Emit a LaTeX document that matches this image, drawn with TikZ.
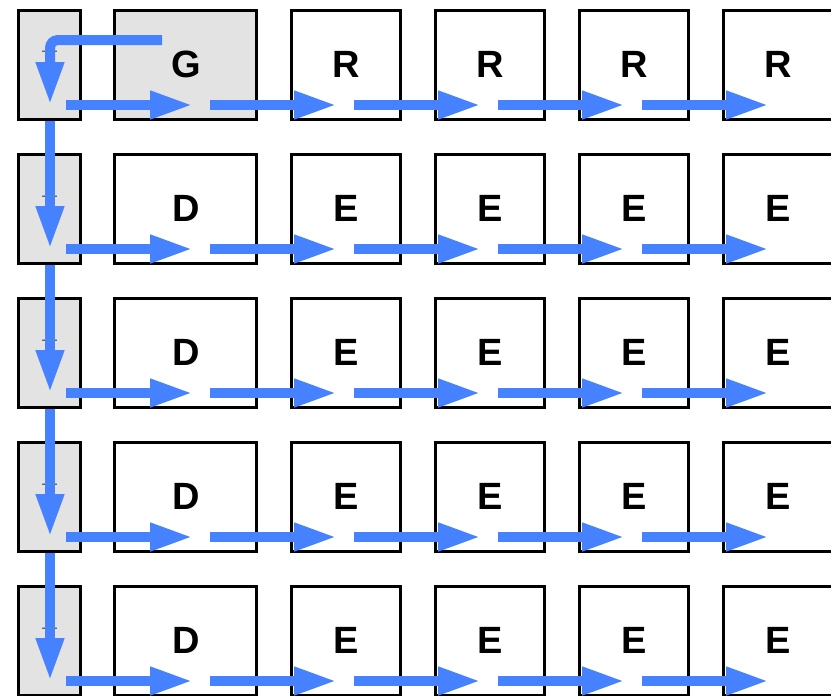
\documentclass[tikz,border=0pt]{standalone}
\usepackage{fontspec}
\setmainfont{Liberation Sans}
\usetikzlibrary{arrows.meta}
\definecolor{flowblue}{RGB}{70,130,255}
\definecolor{cellgray}{RGB}{227,227,227}

\begin{document}
\begin{tikzpicture}[x=1pt,y=-1pt,
    cell/.style={draw,line width=3pt,minimum width=109pt,minimum height=109pt,inner sep=0pt,
      font=\fontsize{38}{38}\selectfont\bfseries},
    narrow/.style={minimum width=62.5pt,fill=cellgray},
    wide/.style={minimum width=142pt},
    tick/.style={inner sep=0pt,anchor=base,text=black!80,font=\fontsize{15}{15}\selectfont},
    flow/.style={draw=flowblue,line width=10pt,-{Triangle[length=43pt,width=26pt]}}]
  \useasboundingbox (0,0) rectangle (831,696);
  % left column
  \foreach \r/\y in {1/64.5,2/208.5,3/352.5,4/496.5,5/640.5}{
    \node[cell,narrow] (a\r) at (49.5,\y) {};
    \node[tick] (m\r) at (49.5,\y-8.5) {—};
  }
  % first row
  \node[cell,wide,fill=cellgray] (b1) at (185.8,64.5) {G};
  \foreach \c/\x in {3/346,4/490,5/634,6/778}{\node[cell] (c1\c) at (\x,64.5) {R};}
  % other rows
  \foreach \r/\y in {2/208.5,3/352.5,4/496.5,5/640.5}{
    \node[cell,wide] (b\r) at (185.8,\y) {D};
    \foreach \c/\x in {3/346,4/490,5/634,6/778}{\node[cell] (c\r\c) at (\x,\y) {E};}
  }
  % arrows
  \coordinate (start) at (162,40);
  \coordinate (bend) at (50,40);
  \coordinate (v1) at (50,105);
  \draw[flow,rounded corners=8pt] (start) -- (bend) -- (v1);
  \foreach \r/\y in {2/121,3/265,4/409,5/553}{
    \coordinate (u\r) at (50,\y);
    \coordinate (v\r) at (50,\y+128);
    \draw[flow] (u\r) -- (v\r);
  }
  \foreach \r/\y in {1/105,2/249,3/393,4/537,5/681}{
    \foreach \k/\x in {0/66,1/210,2/354,3/498,4/642}{
      \coordinate (p\r\k) at (\x,\y);
      \coordinate (q\r\k) at (\x+127,\y);
      \draw[flow] (p\r\k) -- (q\r\k);
    }
  }
\end{tikzpicture}
\end{document}
